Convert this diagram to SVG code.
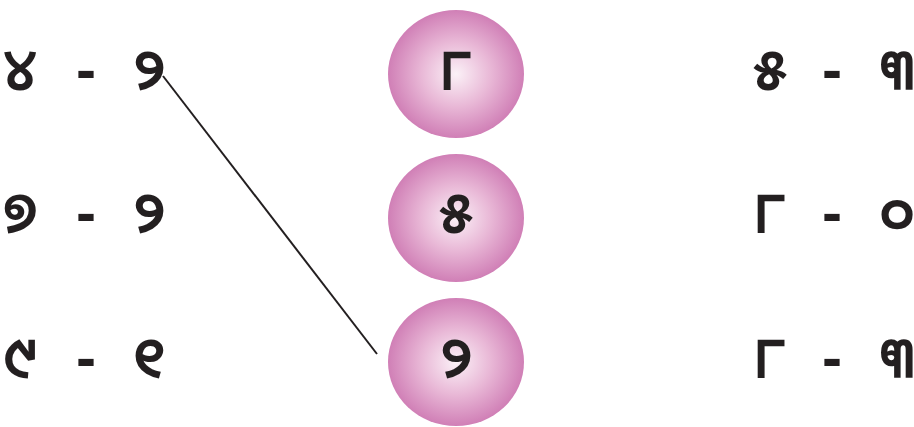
<svg xmlns="http://www.w3.org/2000/svg" width="914" height="427" viewBox="0 0 914 427">
<style>
.t{font-family:"Noto Sans Oriya","Noto Sans","DejaVu Sans",sans-serif;font-size:58px;font-weight:600;fill:#231f20;text-anchor:middle}
.d{font-weight:bold}
.c{fill:url(#g)}
.ln{stroke:#231f20;stroke-width:2;fill:none}
</style>
<defs>
<radialGradient id="g" cx="0.5" cy="0.5" r="0.5">
<stop offset="0" stop-color="#fbf1f7"/>
<stop offset="0.5" stop-color="#e9b9d7"/>
<stop offset="1" stop-color="#d07fb6"/>
</radialGradient>
</defs>
<rect width="914" height="427" fill="#fff"/>
<g id="left1"><text class="t" y="90"><tspan x="20">୪</tspan><tspan class="d" x="86"> - </tspan><tspan x="149">୨</tspan></text></g>
<g id="left2"><text class="t" y="233"><tspan x="20">୭</tspan><tspan class="d" x="86"> - </tspan><tspan x="149">୨</tspan></text></g>
<g id="left3"><text class="t" y="378"><tspan x="20">୯</tspan><tspan class="d" x="86"> - </tspan><tspan x="149">୧</tspan></text></g>
<g id="circle1"><ellipse class="c" cx="456" cy="74" rx="68" ry="64"/><text class="t" x="456" y="90">୮</text></g>
<g id="circle2"><ellipse class="c" cx="456" cy="218" rx="68" ry="64"/><text class="t" x="456" y="233">୫</text></g>
<g id="circle3"><ellipse class="c" cx="456" cy="362" rx="68" ry="64"/><text class="t" x="456" y="378">୨</text></g>
<g id="right1"><text class="t" y="90"><tspan x="770">୫</tspan><tspan class="d" x="832"> - </tspan><tspan x="897">୩</tspan></text></g>
<g id="right2"><text class="t" y="233"><tspan x="770">୮</tspan><tspan class="d" x="832"> - </tspan><tspan x="897">୦</tspan></text></g>
<g id="right3"><text class="t" y="378"><tspan x="770">୮</tspan><tspan class="d" x="832"> - </tspan><tspan x="897">୩</tspan></text></g>
<g id="connectors"><line class="ln" x1="163" y1="76" x2="377" y2="354"/></g>
</svg>
